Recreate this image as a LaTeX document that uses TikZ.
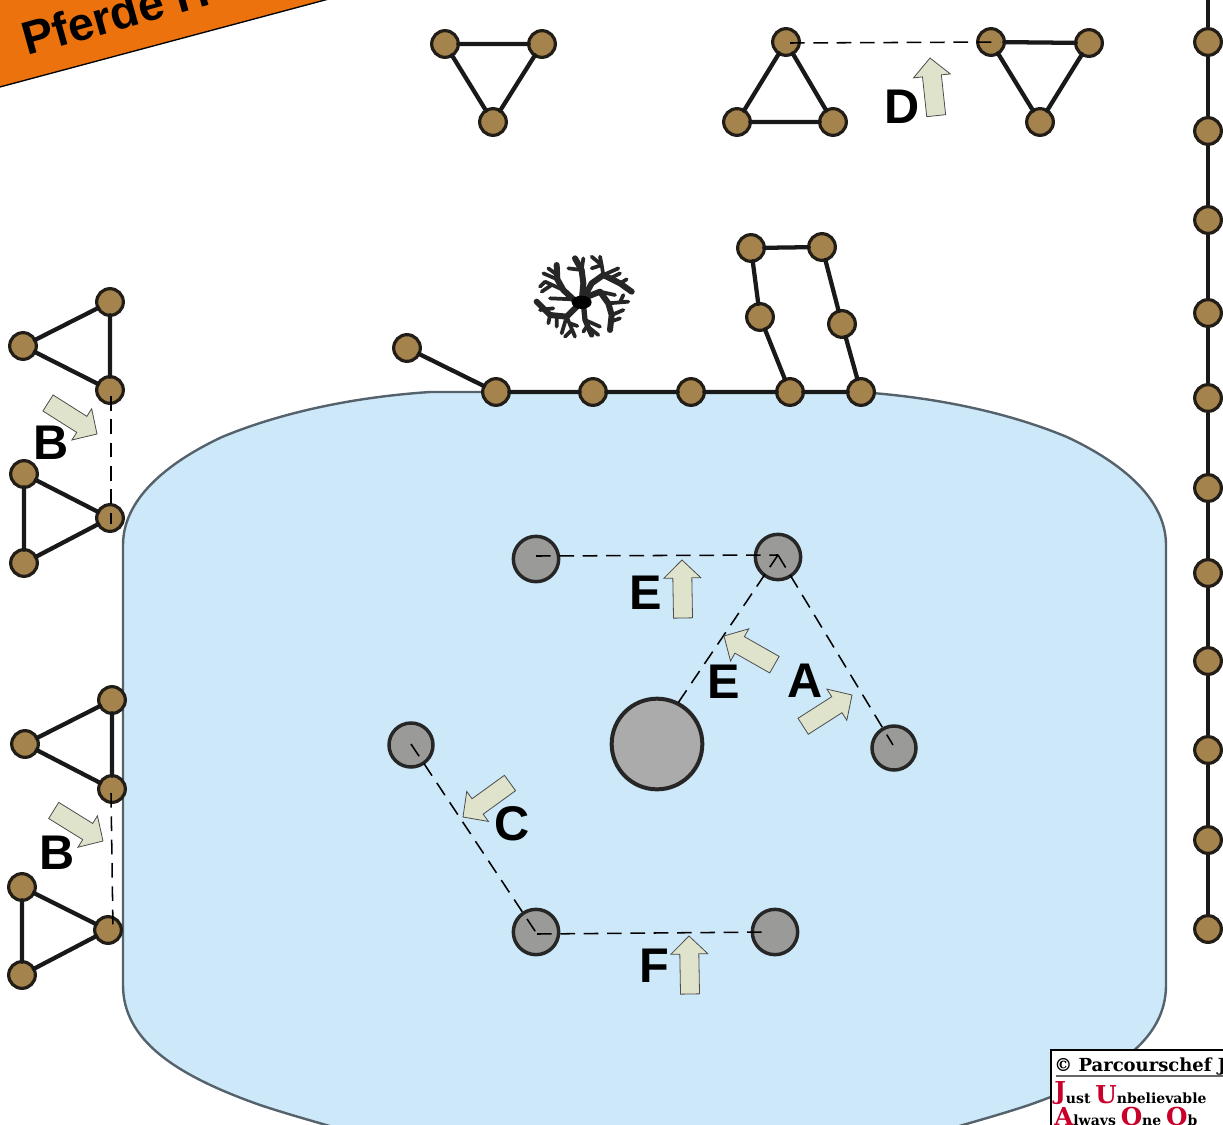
\documentclass[tikz,border=0pt]{standalone}
\usepackage{fontspec}
\setmainfont{Liberation Sans}
\newfontfamily\creditfont{DejaVu Serif}
\definecolor{poolblue}{HTML}{CCE8F9}
\definecolor{pooledge}{HTML}{55626B}
\definecolor{postfill}{HTML}{A5834D}
\definecolor{postedge}{HTML}{221E17}
\definecolor{greyfill}{HTML}{9A9A98}
\definecolor{bigfill}{HTML}{ABABAB}
\definecolor{arrowfill}{HTML}{E0E3CC}
\definecolor{bannerorange}{HTML}{EC720E}
\definecolor{creditred}{HTML}{C8002A}
\tikzset{
  post/.style={circle,draw=postedge,line width=2.4pt,fill=postfill,minimum size=20pt,inner sep=0pt,outer sep=0pt},
  rail/.style={draw=black!90,line width=3.2pt,line cap=round},
  pond/.style={circle,draw=black!85,line width=2.6pt,fill=greyfill,minimum size=34pt,inner sep=0pt,outer sep=0pt},
  bigpond/.style={pond,fill=bigfill,minimum size=68pt,line width=3pt},
  dashline/.style={draw=black,line width=1.15pt,dash pattern=on 11pt off 6.5pt},
  letter/.style={font=\bfseries\fontsize{36.5}{36.5}\selectfont,text=black,inner sep=0pt},
  hurdlearrow/.style={draw=black!70,line width=0.6pt,fill=arrowfill,line join=miter},
}
\newcommand\jumparrow[4]{%
  \pgfmathsetmacro\jumpang{atan2(-(#4-(#2)),#3-(#1))}%
  \path[hurdlearrow,shift={(#3,#4)},rotate=\jumpang,y=0.75pt]
    (0,0)--(-18,18.5)--(-18,9.5)--(-58,9.5)--(-58,-9.5)--(-18,-9.5)--(-18,-18.5)--cycle;}
\newcommand\bigred[1]{\textcolor{creditred}{\fontsize{18.5}{18.5}\selectfont #1}}
\begin{document}
\begin{tikzpicture}[x=0.75pt,y=-0.75pt]
\useasboundingbox (0,0) rectangle (1223,1124);
\clip (0,0) rectangle (1223,1124);
% pool
\path[draw=pooledge,line width=1.8pt,fill=poolblue]
  (123,545) .. controls (123,495) and (175,459) .. (222,437)
  .. controls (270,417) and (340,398) .. (430,392) -- (859,392)
  .. controls (949,398) and (1019,417) .. (1067,437)
  .. controls (1114,459) and (1166,495) .. (1166,545) -- (1166,985)
  .. controls (1166,1040) and (1114,1075) .. (1029,1105)
  .. controls (999,1115) and (969,1123) .. (939,1132) -- (350,1132)
  .. controls (320,1123) and (290,1115) .. (260,1105)
  .. controls (175,1075) and (123,1040) .. (123,985) -- cycle;
% banner
\path[fill=bannerorange,draw=black,line width=1pt] (-5,-5) -- (343.7,-5) -- (-5,88.3) -- cycle;
\node[anchor=base west,rotate=15.6,inner sep=0pt,font=\bfseries\fontsize{35}{35}\selectfont] (bannertext) at (27,56) {Pferde H};
% tree
\begin{scope}[shift={(520,240)},scale=1/3,line cap=round,line join=round,draw=black!85]
  \draw[line width=4.5pt] (185,185) -- (160,178) -- (130,150) -- (112,118) -- (110,75);
  \draw[line width=2.8pt] (130,150) -- (75,125) (112,118) -- (70,100) (160,178) -- (90,175) (105,100) -- (85,85) (75,125) -- (60,140) (95,135) -- (65,155);
  \draw[line width=4.5pt] (185,185) -- (190,130) -- (185,90) -- (165,55);
  \draw[line width=2.8pt] (185,90) -- (145,85) (185,90) -- (190,55);
  \draw[line width=4.5pt] (185,185) -- (215,130) -- (250,105) -- (300,130) -- (335,155);
  \draw[line width=2.8pt] (250,105) -- (245,75) -- (215,50) (245,75) -- (215,85) (250,105) -- (295,85) (300,130) -- (320,118) (245,75) -- (240,50) (270,115) -- (300,100);
  \draw[line width=4.5pt] (190,175) -- (240,155) -- (265,190) -- (275,225) -- (270,270);
  \draw[line width=2.8pt] (265,190) -- (325,185) (275,225) -- (310,210) (240,155) -- (285,165) (300,187) -- (310,165) (272,245) -- (300,235);
  \draw[line width=4pt] (190,190) -- (195,240) -- (215,285);
  \draw[line width=2.8pt] (195,240) -- (240,260) (200,260) -- (190,275) (210,265) -- (235,285);
  \draw[line width=4.5pt] (180,190) -- (140,230) -- (90,225) -- (50,185);
  \draw[line width=2.8pt] (90,225) -- (85,250) (140,230) -- (165,290) (140,230) -- (125,280) (150,250) -- (172,258) (60,210) -- (100,205) (110,228) -- (110,260) (155,270) -- (135,290);
  \fill[black] (185,187) ellipse (30 and 20);
\end{scope}
% fence on the right
\coordinate (fencetop) at (1208,-5);
\coordinate (fenceend) at (1208,929);
\draw[rail] (fencetop) -- (fenceend);
\foreach \n/\y in {a/42,b/131,c/220,d/313,e/398,f/488,g/573,h/661,i/750,j/840,k/929}
  \node[post] (r\n) at (1208,\y) {};
% triangles at the top
\node[post] (t1a) at (445,44) {}; \node[post] (t1b) at (542,44) {}; \node[post] (t1c) at (493,122) {};
\draw[rail] (t1a) -- (t1b) -- (t1c) -- (t1a);
\node[post] (t2a) at (786,42) {}; \node[post] (t2b) at (737,122) {}; \node[post] (t2c) at (833,122) {};
\draw[rail] (t2a) -- (t2b) -- (t2c) -- (t2a);
\node[post] (t3a) at (991,42) {}; \node[post] (t3b) at (1089,43) {}; \node[post] (t3c) at (1040,122) {};
\draw[rail] (t3a) -- (t3b) -- (t3c) -- (t3a);
% triangles on the left
\node[post] (l1a) at (110,302) {}; \node[post] (l1b) at (23,346) {}; \node[post] (l1c) at (110,390) {};
\draw[rail] (l1a) -- (l1b) -- (l1c) -- (l1a);
\node[post] (l2a) at (24,474) {}; \node[post] (l2b) at (24,563) {}; \node[post] (l2c) at (110,518) {};
\draw[rail] (l2a) -- (l2b) -- (l2c) -- (l2a);
\node[post] (l3a) at (112,700) {}; \node[post] (l3b) at (25,744) {}; \node[post] (l3c) at (112,789) {};
\draw[rail] (l3a) -- (l3b) -- (l3c) -- (l3a);
\node[post] (l4a) at (22,887) {}; \node[post] (l4b) at (22,975) {}; \node[post] (l4c) at (108,930) {};
\draw[rail] (l4a) -- (l4b) -- (l4c) -- (l4a);
% shore fence and the enclosure
\node[post] (s1) at (407,348) {}; \node[post] (s2) at (496,392) {}; \node[post] (s3) at (593,392) {};
\node[post] (s4) at (691,392) {}; \node[post] (s5) at (790,392) {}; \node[post] (s6) at (861,392) {};
\node[post] (u1) at (760,317) {}; \node[post] (u2) at (751,248) {}; \node[post] (u3) at (822,247) {}; \node[post] (u4) at (842,324) {};
\draw[rail] (s1) -- (s2) -- (s3) -- (s4) -- (s5) -- (s6);
\draw[rail] (s5) -- (u1) -- (u2) -- (u3) -- (u4) -- (s6);
% posts in the water
\node[pond] (p1) at (536,559) {};
\node[pond] (p2) at (778,557) {};
\node[pond,minimum size=33pt] (p3) at (411,745) {};
\node[pond,minimum size=33pt] (p4) at (894,748) {};
\node[pond] (p5) at (536,932) {};
\node[pond] (p6) at (775,932) {};
\node[bigpond] (big) at (657,744) {};
% dashed course: free ends sit inside the posts
\coordinate (d1) at (536,556);
\coordinate (d2) at (778,555);
\coordinate (d4) at (893,745);
\coordinate (d3) at (411,744);
\coordinate (d5) at (537,934);
\coordinate (d6) at (768,932);
\coordinate (d7) at (790,43);
\coordinate (d8) at (1000,42);
\coordinate (d9) at (111,396);
\coordinate (d10) at (111,524);
\coordinate (d11) at (111,793);
\coordinate (d12) at (113,930);
\draw[dashline] (d1) -- (d2);
\draw[dashline] (d2) -- (big.63);
\draw[dashline] (d2) -- (d4);
\draw[dashline] (d3) -- (d5);
\draw[dashline] (d5) -- (d6);
\draw[dashline] (d7) -- (d8);
\draw[dashline] (d9) -- (d10);
\draw[dashline] (d11) -- (d12);
% direction arrows
\jumparrow{936}{114}{930}{58}
\jumparrow{48}{403}{97}{434}
\jumparrow{53}{810}{103}{841}
\jumparrow{683}{617}{682}{560}
\jumparrow{775}{665}{724}{636}
\jumparrow{802}{727}{852}{695}
\jumparrow{510}{783}{463}{817}
\jumparrow{690}{993}{689}{936}
% letters
\node[letter] (lD) at (902,107) {D};
\node[letter] (lB1) at (51,443) {B};
\node[letter] (lB2) at (57,853) {B};
\node[letter] (lE1) at (646,593) {E};
\node[letter] (lE2) at (724,682) {E};
\node[letter] (lA) at (805,681) {A};
\node[letter] (lC) at (512,824) {C};
\node[letter] (lF) at (654,966) {F};
% credit box
\path[fill=white,draw=black,line width=1pt] (1051,1050) rectangle (1240,1140);
\draw[black!60,line width=1pt] (1056,1076) -- (1230,1076);
\node[anchor=base west,inner sep=0pt,font=\creditfont\bfseries\fontsize{13.5}{13.5}\selectfont] (credit1) at (1054,1071) {© Parcourschef J};
\node[anchor=base west,inner sep=0pt,font=\creditfont\bfseries\fontsize{10.5}{10.5}\selectfont] (credit2) at (1054,1103) {\raisebox{3pt}{\bigred{J}}ust \bigred{U}nbelievable};
\node[anchor=base west,inner sep=0pt,font=\creditfont\bfseries\fontsize{10.5}{10.5}\selectfont] (credit3) at (1054,1125) {\bigred{A}lways \bigred{O}ne \bigred{O}b};
\end{tikzpicture}
\end{document}
